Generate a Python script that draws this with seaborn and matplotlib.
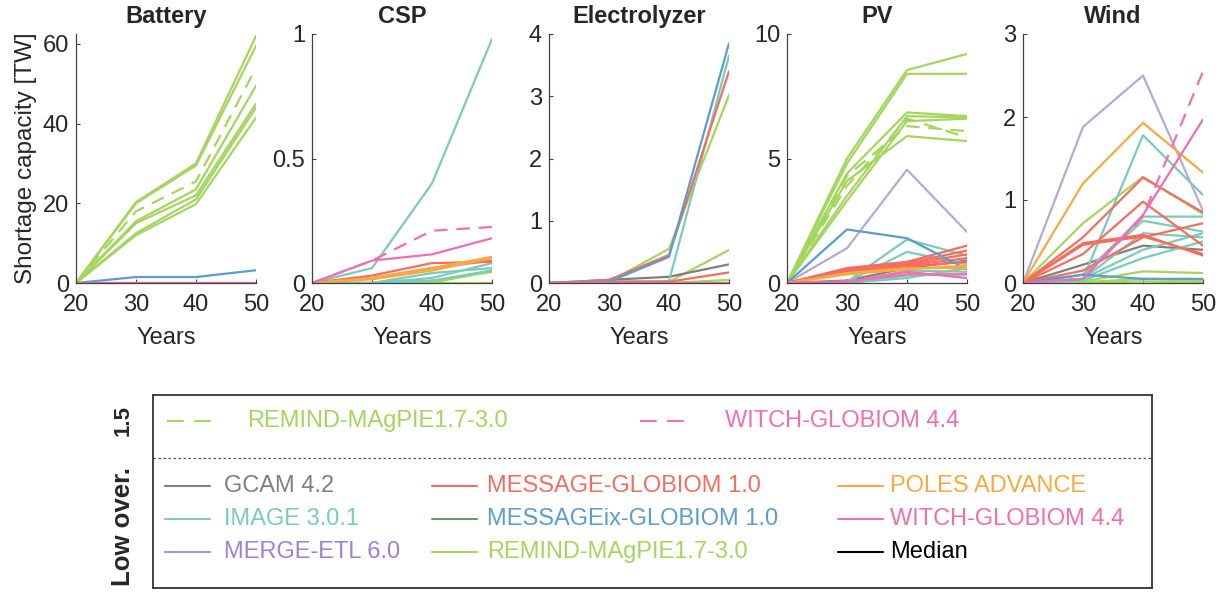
import numpy as np
import pandas as pd
import matplotlib
matplotlib.use("Agg")
import matplotlib.pyplot as plt
from matplotlib.ticker import FormatStrFormatter
import seaborn as sns

# --- Data ---
YEARS = [20, 30, 40, 50]

BATTERY = [
    ("REMIND", "solid", [0, 20.3, 30.0, 62.0]),
    ("REMIND", "solid", [0, 20.0, 29.5, 59.5]),
    ("REMIND", "solid", [0, 15.5, 23.5, 49.5]),
    ("REMIND", "solid", [0, 15.0, 22.0, 45.0]),
    ("REMIND", "solid", [0, 12.5, 21.0, 44.0]),
    ("REMIND", "solid", [0, 12.0, 19.8, 41.5]),
    ("REMIND", "dashed", [0, 18.0, 25.5, 54.0]),
    ("MESSAGEix", "solid", [0, 1.5, 1.5, 3.2]),
    ("MESSAGE", "solid", [0, 0, 0, 0]),
    ("WITCH", "solid", [0, 0, 0, 0]),
]

CSP = [
    ("REMIND", "solid", [0, 0, 0, 0.05]),
    ("REMIND", "solid", [0, 0, 0.005, 0.045]),
    ("REMIND", "solid", [0, 0, 0, 0]),
    ("IMAGE", "solid", [0, 0.06, 0.40, 0.98]),
    ("IMAGE", "solid", [0, 0, 0.02, 0.08]),
    ("IMAGE", "solid", [0, 0, 0.04, 0.06]),
    ("IMAGE", "solid", [0, 0, 0.01, 0.05]),
    ("MESSAGE", "solid", [0, 0.03, 0.08, 0.085]),
    ("MESSAGE", "solid", [0, 0.02, 0.06, 0.09]),
    ("POLES", "solid", [0, 0.02, 0.06, 0.105]),
    ("POLES", "solid", [0, 0.015, 0.05, 0.10]),
    ("WITCH", "dashed", [0, 0.09, 0.21, 0.225]),
    ("WITCH", "solid", [0, 0.09, 0.115, 0.18]),
]

ELECTROLYZER = [
    ("REMIND", "solid", [0, 0.02, 0.55, 3.02]),
    ("REMIND", "solid", [0, 0.02, 0.02, 0.53]),
    ("REMIND", "solid", [0, 0, 0, 0.05]),
    ("REMIND", "solid", [0, 0, 0, 0]),
    ("GCAM", "solid", [0, 0.05, 0.10, 0.30]),
    ("IMAGE", "solid", [0, 0.02, 0.03, 3.65]),
    ("MESSAGE", "solid", [0, 0.05, 0.45, 3.40]),
    ("MESSAGE", "solid", [0, 0.02, 0.02, 0.17]),
    ("MESSAGEix", "solid", [0, 0.02, 0.42, 3.85]),
    ("WITCH", "solid", [0, 0, 0, 0]),
]

PV = [
    ("REMIND", "solid", [0, 5.0, 8.55, 9.2]),
    ("REMIND", "solid", [0, 4.8, 8.4, 8.4]),
    ("REMIND", "solid", [0, 4.4, 6.85, 6.7]),
    ("REMIND", "solid", [0, 3.5, 6.7, 6.65]),
    ("REMIND", "solid", [0, 3.3, 6.5, 6.6]),
    ("REMIND", "solid", [0, 4.1, 5.9, 5.7]),
    ("REMIND", "dashed", [0, 4.3, 6.3, 6.1]),
    ("REMIND", "dashed", [0, 3.9, 6.6, 5.85]),
    ("GCAM", "solid", [0, 0.1, 0.6, 0.9]),
    ("IMAGE", "solid", [0, 0.05, 1.75, 1.1]),
    ("IMAGE", "solid", [0, 0.05, 1.25, 0.75]),
    ("IMAGE", "solid", [0, 0, 0.5, 0.45]),
    ("IMAGE", "solid", [0, 0, 0.3, 0.35]),
    ("IMAGE", "solid", [0, 0, 0.2, 0.6]),
    ("MERGE", "solid", [0, 1.4, 4.55, 2.05]),
    ("MESSAGE", "solid", [0, 0.6, 0.85, 1.5]),
    ("MESSAGE", "solid", [0, 0.55, 0.8, 1.3]),
    ("MESSAGE", "solid", [0, 0.5, 0.75, 1.15]),
    ("MESSAGE", "solid", [0, 0.5, 0.7, 1.0]),
    ("MESSAGE", "solid", [0, 0.45, 0.65, 0.85]),
    ("MESSAGEix", "solid", [0, 2.15, 1.8, 0.55]),
    ("POLES", "solid", [0, 0.4, 0.6, 0.6]),
    ("POLES", "solid", [0, 0.35, 0.55, 0.7]),
    ("WITCH", "solid", [0, 0.05, 0.45, 0.2]),
    ("WITCH", "solid", [0, 0.05, 0.35, 0.35]),
]

WIND = [
    ("REMIND", "solid", [0, 0.72, 1.28, 0.83]),
    ("REMIND", "solid", [0, 0.02, 0.14, 0.12]),
    ("REMIND", "solid", [0, 0.01, 0.05, 0.02]),
    ("REMIND", "solid", [0, 0, 0.02, 0]),
    ("GCAM", "solid", [0, 0.22, 0.45, 0.40]),
    ("IMAGE", "solid", [0, 0.05, 1.78, 1.06]),
    ("IMAGE", "solid", [0, 0.1, 0.8, 0.8]),
    ("IMAGE", "solid", [0, 0.1, 0.75, 0.62]),
    ("IMAGE", "solid", [0, 0.05, 0.6, 0.55]),
    ("IMAGE", "solid", [0, 0.05, 0.4, 0.6]),
    ("IMAGE", "solid", [0, 0.03, 0.3, 0.5]),
    ("MERGE", "solid", [0, 1.88, 2.5, 0.87]),
    ("MESSAGE", "solid", [0, 0.55, 1.27, 0.85]),
    ("MESSAGE", "solid", [0, 0.35, 0.98, 0.45]),
    ("MESSAGE", "solid", [0, 0.48, 0.58, 0.33]),
    ("MESSAGE", "solid", [0, 0.46, 0.56, 0.35]),
    ("MESSAGE", "solid", [0, 0.15, 0.55, 0.72]),
    ("MESSAGEix", "solid", [0, 0.1, 0.05, 0.05]),
    ("POLES", "solid", [0, 1.2, 1.93, 1.33]),
    ("WITCH", "dashed", [0, 0.05, 0.8, 2.55]),
    ("WITCH", "solid", [0, 0.05, 0.82, 1.97]),
]

PANELS = ["Battery", "CSP", "Electrolyzer", "PV", "Wind"]
PANEL_DATA = [BATTERY, CSP, ELECTROLYZER, PV, WIND]
YMAX = [62.5, 1, 4, 10, 3]
YTICKS = [[0, 20, 40, 60], [0, 0.5, 1], [0, 1, 2, 3, 4], [0, 5, 10], [0, 1, 2, 3]]

MODELS = ["REMIND", "GCAM", "IMAGE", "MERGE", "MESSAGE", "MESSAGEix", "POLES", "WITCH"]
COLORS = {
    "REMIND": "#a4d65e",
    "GCAM": "#7f7f7f",
    "IMAGE": "#7acbb8",
    "MERGE": "#b4aad8",
    "MESSAGE": "#f36e5e",
    "MESSAGEix": "#5b9dce",
    "POLES": "#f9a93f",
    "WITCH": "#f06eb2",
}

# legend rows: (label, line colour, text colour)
LEG_15 = [("REMIND-MAgPIE1.7-3.0", "#a4d65e"), ("WITCH-GLOBIOM 4.4", "#f06eb2")]
LEG_COL1 = [("GCAM 4.2", "#7f7f7f", "#7f7f7f"),
            ("IMAGE 3.0.1", "#7acbb8", "#7acbb8"),
            ("MERGE-ETL 6.0", "#a68fdb", "#9c82d6")]
LEG_COL2 = [("MESSAGE-GLOBIOM 1.0", "#f36e5e", "#f36e5e"),
            ("MESSAGEix-GLOBIOM 1.0", "#5e9a70", "#5b9dce"),
            ("REMIND-MAgPIE1.7-3.0", "#a4d65e", "#a4d65e")]
LEG_COL3 = [("POLES ADVANCE", "#f9a93f", "#f9a93f"),
            ("WITCH-GLOBIOM 4.4", "#f06eb2", "#f06eb2"),
            ("Median", "black", "black")]

# --- tidy frame ---
rows = []
for panel, entries in zip(PANELS, PANEL_DATA):
    for run, (model, dash, vals) in enumerate(entries):
        for yr, v in zip(YEARS, vals):
            rows.append({"panel": panel, "model": model, "dash": dash,
                         "run": run, "year": yr, "value": v})
df = pd.DataFrame(rows)

sns.set_theme(style="ticks")
plt.rcParams["font.family"] = ["Liberation Sans", "DejaVu Sans"]
plt.rcParams["axes.edgecolor"] = "#404040"
plt.rcParams["xtick.color"] = "#404040"
plt.rcParams["ytick.color"] = "#404040"
plt.rcParams["xtick.labelcolor"] = "#262626"
plt.rcParams["ytick.labelcolor"] = "#262626"

W, H = 1229, 597
fig = plt.figure(figsize=(W / 100, H / 100), dpi=100)

lefts = [76, 312, 549, 787, 1023]
ax_w = 180
ax_top, ax_bot = 34, 283

for i, panel in enumerate(PANELS):
    ax = fig.add_axes([lefts[i] / W, 1 - ax_bot / H, ax_w / W, (ax_bot - ax_top) / H])
    sub = df[df["panel"] == panel]
    sns.lineplot(data=sub, x="year", y="value", hue="model", units="run",
                 estimator=None, style="dash", style_order=["solid", "dashed"],
                 dashes={"solid": "", "dashed": (6, 4)},
                 hue_order=MODELS, palette=COLORS, linewidth=1.6,
                 legend=False, ax=ax)
    ax.set_xlim(20, 50)
    ax.set_ylim(0, YMAX[i])
    ax.set_xticks([20, 30, 40, 50])
    ax.set_yticks(YTICKS[i])
    ax.yaxis.set_major_formatter(FormatStrFormatter("%g"))
    ax.tick_params(direction="in", length=3, width=0.8, labelsize=17)
    ax.tick_params(axis="x", pad=8)
    ax.tick_params(axis="y", pad=5)
    ax.set_xlabel("Years", fontsize=17, color="#262626", labelpad=8)
    ax.set_ylabel("Shortage capacity [TW]" if i == 0 else "", fontsize=17.5,
                  color="#262626", labelpad=4)
    ax.set_title(panel, fontsize=17, fontweight="bold", pad=8)
    for s in ["top", "right"]:
        ax.spines[s].set_visible(False)
    ax.spines["left"].set_linewidth(0.9)
    ax.spines["bottom"].set_linewidth(0.9)

# --- legend box, drawn in pixel coords ---
bx0, bx1, by0, by1 = 153, 1152, 395, 588
lax = fig.add_axes([bx0 / W, 1 - by1 / H, (bx1 - bx0) / W, (by1 - by0) / H])
lax.set_xlim(bx0, bx1)
lax.set_ylim(by1, by0)
lax.set_xticks([])
lax.set_yticks([])
for s in lax.spines.values():
    s.set_visible(True)
    s.set_color("#333333")
    s.set_linewidth(1.3)
lax.axhline(458, color="#555555", lw=0.9, ls=(0, (2, 2)))

fs_leg = 17
# 1.5 row
for (label, col), (lx, tx) in zip(LEG_15, [(167, 247), (640, 725)]):
    lax.plot([lx, lx + 52], [421, 421], color=col, lw=1.5, ls=(0, (8, 5)))
    lax.text(tx, 421, label, color=col, fontsize=fs_leg, va="center")

row_y = [486, 519, 552]
for items, (lx, tx) in zip([LEG_COL1, LEG_COL2, LEG_COL3],
                           [(165, 224), (432, 487), (838, 890)]):
    for (label, lcol, tcol), y in zip(items, row_y):
        lax.plot([lx, lx + 45], [y, y], color=lcol, lw=1.5)
        lax.text(tx, y, label, color=tcol, fontsize=fs_leg, va="center")

fig.text(123 / W, 1 - 421 / H, "1.5", rotation=90, fontsize=16,
         fontweight="bold", ha="center", va="center")
fig.text(123 / W, 1 - 526 / H, "Low over.", rotation=90, fontsize=18.5,
         fontweight="bold", ha="center", va="center")

fig.savefig("out.png", dpi=100)
